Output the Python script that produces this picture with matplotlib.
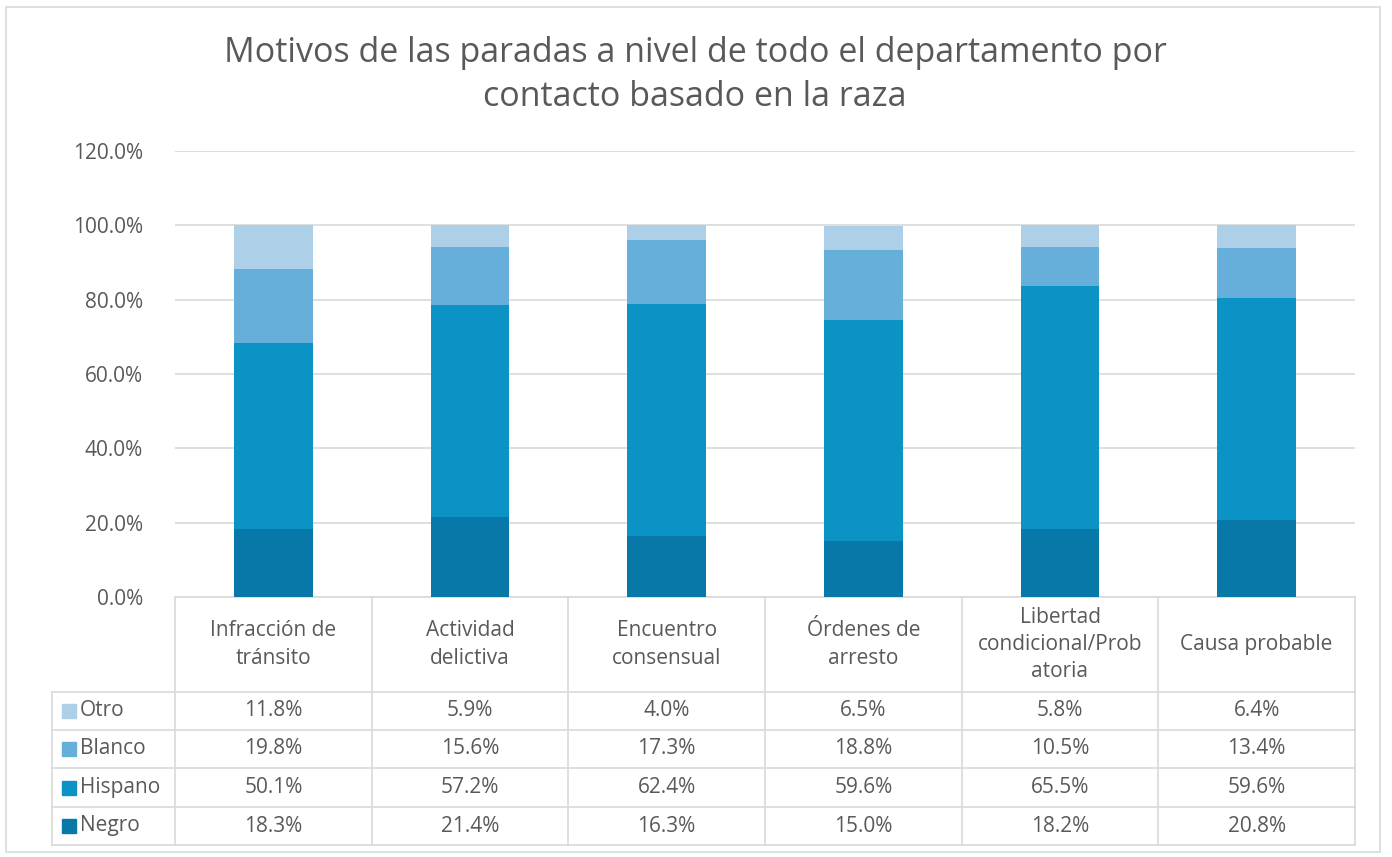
import matplotlib.pyplot as plt
from matplotlib.patches import Rectangle

plt.rcParams['font.family'] = ['Open Sans', 'DejaVu Sans']

categorias = ["Infracción de\ntránsito", "Actividad\ndelictiva", "Encuentro\nconsensual",
              "Órdenes de\narresto", "Libertad\ncondicional/Prob\natoria", "Causa probable"]
series = ["Negro", "Hispano", "Blanco", "Otro"]
negro = [18.3, 21.4, 16.3, 15.0, 18.2, 20.8]
hispano = [50.1, 57.2, 62.4, 59.6, 65.5, 59.6]
blanco = [19.8, 15.6, 17.3, 18.8, 10.5, 13.4]
otro = [11.8, 5.9, 4.0, 6.5, 5.8, 6.4]
colores = {"Negro": "#0778a7", "Hispano": "#0c93c6", "Blanco": "#67afdb", "Otro": "#aecfe8"}
titulo = "Motivos de las paradas a nivel de todo el departamento por\ncontacto basado en la raza"

valores = {"Negro": negro, "Hispano": hispano, "Blanco": blanco, "Otro": otro}
W, H = 1392, 857
txt = "#595959"
linea = "#d9d9d9"
fs = 15

fig = plt.figure(figsize=(W / 100, H / 100), dpi=100)

# capa en pixeles para marco, titulo y tabla
bg = fig.add_axes([0, 0, 1, 1])
bg.set_xlim(0, W)
bg.set_ylim(H, 0)
bg.axis("off")
bg.add_patch(Rectangle((6, 7), 1374, 845, fill=False, edgecolor=linea, lw=1.2))
bg.text(695, 75, titulo, ha="center", va="center", fontsize=24.5, color=txt, linespacing=1.42)

x0, x1, y0, y1 = 175, 1355, 597, 151
ax = fig.add_axes([x0 / W, 1 - y0 / H, (x1 - x0) / W, (y0 - y1) / H])
x = range(len(categorias))
base = [0] * len(categorias)
for s in series:
    ax.bar(x, valores[s], 0.4, bottom=base, color=colores[s], zorder=3)
    base = [b + v for b, v in zip(base, valores[s])]
ax.set_xlim(-0.5, len(categorias) - 0.5)
ax.set_ylim(0, 120)
ax.set_yticks(range(0, 121, 20))
ax.set_yticklabels([f"{t:.1f}%" for t in range(0, 121, 20)], fontsize=fs, color=txt)
ax.tick_params(axis="y", length=0, pad=23)
ax.set_xticks([])
ax.grid(axis="y", color=linea, lw=1.2, zorder=0)
for sp in ax.spines.values():
    sp.set_visible(False)
ax.set_facecolor("none")

# tabla de datos
cw = (x1 - x0) / len(categorias)
filas = [692, 730, 768, 807, 845]
for yy in filas:
    bg.plot([52, x1], [yy, yy], color=linea, lw=1.2)
bg.plot([x0, x1], [y0, y0], color=linea, lw=1.2)
bg.plot([52, 52], [filas[0], filas[-1]], color=linea, lw=1.2)
for i in range(len(categorias) + 1):
    bg.plot([x0 + i * cw, x0 + i * cw], [y0, filas[-1]], color=linea, lw=1.2)
for i, c in enumerate(categorias):
    bg.text(x0 + (i + 0.5) * cw, (y0 + filas[0]) / 2, c, ha="center", va="center",
            fontsize=fs, color=txt, linespacing=1.4)
for r, s in enumerate(reversed(series)):
    yc = (filas[r] + filas[r + 1]) / 2
    bg.add_patch(Rectangle((62, yc - 7), 14, 14, color=colores[s]))
    bg.text(80, yc, s, ha="left", va="center", fontsize=fs, color=txt)
    for i, v in enumerate(valores[s]):
        bg.text(x0 + (i + 0.5) * cw, yc, f"{v:.1f}%", ha="center", va="center", fontsize=fs, color=txt)

fig.savefig("out.png", dpi=100)
